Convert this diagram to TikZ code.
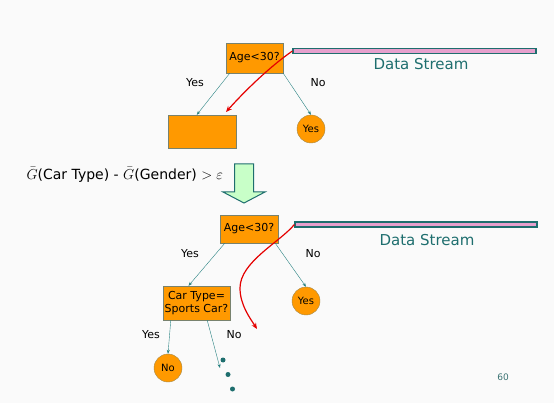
\documentclass[tikz,border=0pt]{standalone}
\usepackage{fontspec}
\setmainfont{DejaVu Sans}
\usetikzlibrary{arrows.meta}
\definecolor{boxorange}{RGB}{255,153,0}
\definecolor{boxedge}{RGB}{120,130,110}
\definecolor{edgeteal}{RGB}{40,130,130}
\definecolor{streamteal}{RGB}{30,110,110}
\definecolor{streampink}{RGB}{230,160,205}
\definecolor{arrowgreen}{RGB}{200,255,200}
\tikzset{
  testbox/.style={draw=boxedge, fill=boxorange, inner sep=1pt, font=\fontsize{11}{12.5}\selectfont, align=center},
  leaf/.style={circle, draw=boxedge!70!boxorange, fill=boxorange, minimum size=28pt, inner sep=0pt, font=\fontsize{10}{11}\selectfont},
  stream/.style={draw=streamteal, line width=1.2pt, fill=streampink, minimum height=5pt, inner sep=0pt},
  branch/.style={draw=edgeteal, line width=0.4pt, -{Stealth[length=4pt,width=3pt]}},
  flow/.style={draw=red!90!black, line width=1.2pt, -{Stealth[length=6pt,width=5pt]}},
  lbl/.style={font=\fontsize{11}{13}\selectfont},
  dot/.style={circle, fill=streamteal, minimum size=5pt, inner sep=0pt}
}
\begin{document}
\begin{tikzpicture}[x=1pt, y=-1pt]
        \fill[black!2] (0,0) rectangle (554,403);
        \useasboundingbox (0,0) rectangle (554,403);
        % first tree
        \node[testbox, minimum width=57pt, minimum height=30pt] (age) at (254.5, 58) {Age<30?};
        \node[stream, minimum width=243pt] (bar) at (414.5, 51) {};
        \node[text=streamteal, font=\fontsize{15}{17}\selectfont] (ds) at (421, 64) {Data Stream};
        \node[lbl] (yes) at (195, 83) {Yes};
        \node[lbl] (no) at (318, 83) {No};
        \node[testbox, minimum width=68pt, minimum height=33pt] (grow) at (202, 131.5) {};
        \node[leaf] (leafyes) at (311, 129) {Yes};
        \draw[branch] ([xshift=4pt]age.south west) -- ([xshift=29pt]grow.north west);
        \draw[branch] (age.south east) -- (leafyes.north);
        \coordinate (hit) at (226, 112);
        \draw[flow] (bar.west) .. controls (268, 68) and (243, 93) .. (hit);
        % split test
        \node[font=\fontsize{14}{16}\selectfont, anchor=west] (gain) at (23, 175)
          {$\bar{G}$(Car Type) - $\bar{G}$(Gender) $>\varepsilon$};
        \draw[draw=streamteal, line width=1pt, fill=arrowgreen]
          (234.5,164) -- (253.5,164) -- (253.5,192) -- (265,192) -- (244,203)
          -- (223,192) -- (234.5,192) -- cycle;
        % second tree
        \node[testbox, minimum width=58pt, minimum height=28pt] (age2) at (249, 229) {Age<30?};
        \node[stream, minimum width=242pt] (bar2) at (416, 224.5) {};
        \node[text=streamteal, font=\fontsize{15}{17}\selectfont] (ds2) at (427, 240) {Data Stream};
        \node[lbl] (yes2) at (190, 254) {Yes};
        \node[lbl] (no2) at (313, 254) {No};
        \node[testbox, minimum width=67pt, minimum height=34pt] (car) at (196.5, 303)
          {Car Type=\\Sports Car?};
        \node[leaf] (leafyes2) at (306, 301) {Yes};
        \node[lbl] (yes3) at (151, 335) {Yes};
        \node[lbl] (no3) at (234, 335) {No};
        \node[leaf] (leafno) at (168, 368) {No};
        \node[dot] (d1) at (223, 360) {};
        \node[dot] (d2) at (228, 374.5) {};
        \node[dot] (d3) at (232.5, 389) {};
        \draw[branch] ([xshift=5pt]age2.south west) -- ([xshift=-8pt]car.north);
        \draw[branch] ([xshift=-3pt]age2.south east) -- (leafyes2.north);
        \draw[branch] ([xshift=8pt]car.south west) -- (leafno.north);
        \draw[branch] ([xshift=-23pt]car.south east) -- ([shift={(-3pt,-8pt)}]d1.center);
        \coordinate (hit2) at (257, 329);
        \draw[flow] (bar2.west) .. controls (280, 242) and (240, 262) .. (240, 288)
          .. controls (240, 305) and (250, 318) .. (hit2);
        \node[text=streamteal!70!gray, font=\fontsize{9}{10}\selectfont] (page) at (503, 377) {60};
      \end{tikzpicture}
\end{document}
